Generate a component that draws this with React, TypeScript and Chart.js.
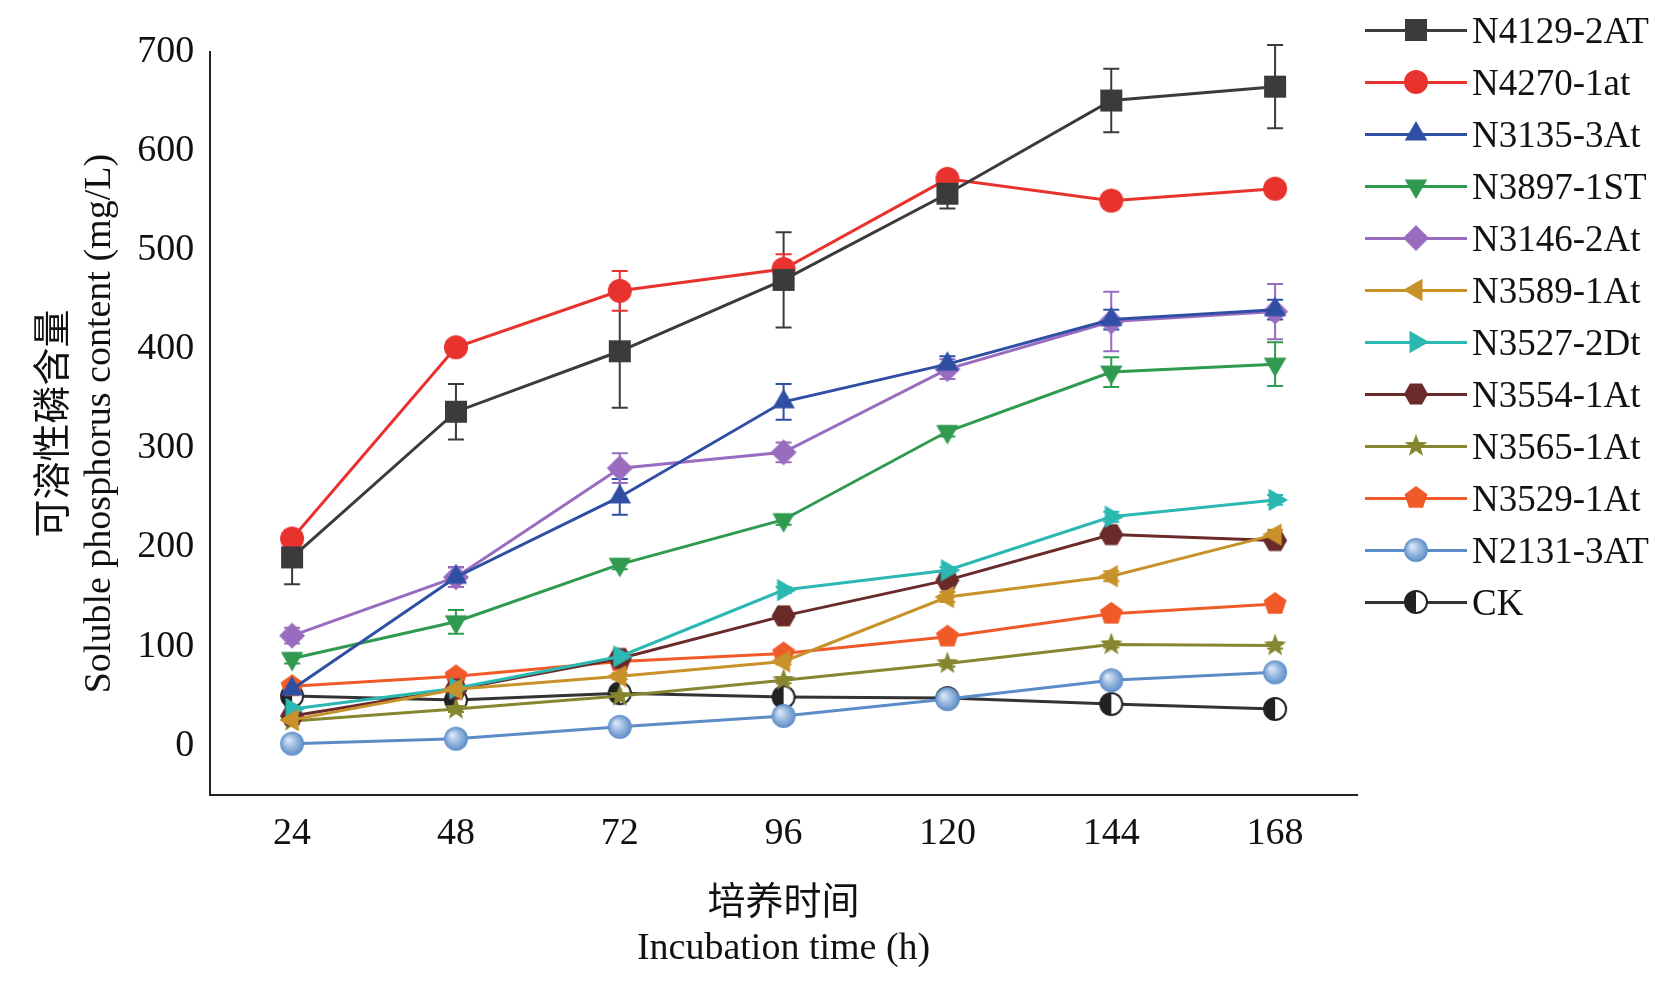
import React, { useEffect, useRef, useState } from "react";
import { Chart, registerables } from "chart.js";
Chart.register(...registerables);

const hours = [24, 48, 72, 96, 120, 144, 168];
const names = ["N4129-2AT","N4270-1at","N3135-3At","N3897-1ST","N3146-2At","N3589-1At","N3527-2Dt","N3554-1At","N3565-1At","N3529-1At","N2131-3AT","CK"];
const colors = ["#3b3b3b","#e8322e","#2e4fa3","#2f9a50","#9a6cc0","#c8922a","#2cb8b2","#6a2a2a","#868630","#f05a28","#5b8cc8","#333333"];
const shapes = ["square","circle","tri","tridown","diamond","trileft","triright","hex","star","pent","ball","open"];
const v1 = [190, 337, 398, 470, 557, 651, 665];
const v2 = [209, 402, 459, 481, 572, 550, 562];
const v3 = [57, 170, 251, 347, 385, 430, 440];
const v4 = [88, 125, 183, 228, 317, 377, 385];
const v5 = [111, 170, 280, 296, 380, 428, 438];
const v6 = [26, 57, 70, 85, 150, 171, 213];
const v7 = [37, 58, 90, 157, 177, 231, 248];
const v8 = [30, 57, 88, 131, 167, 213, 207];
const v9 = [25, 37, 50, 66, 83, 102, 101];
const v10 = [60, 70, 85, 93, 110, 133, 143];
const v11 = [2, 7, 19, 30, 47, 66, 74];
const v12 = [50, 46, 53, 49, 48, 42, 37];
const e1 = [27, 28, 57, 48, 15, 32, 42];
const e2 = [5, 5, 20, 15, 5, 8, 5];
const e3 = [5, 10, 18, 18, 8, 10, 10];
const e4 = [5, 12, 5, 5, 5, 15, 22];
const e5 = [8, 10, 15, 10, 10, 30, 28];
const e6 = [3, 3, 3, 3, 5, 5, 5];
const e7 = [3, 3, 3, 3, 3, 5, 5];
const e8 = [3, 3, 3, 5, 5, 5, 5];
const e9 = [3, 3, 3, 3, 3, 3, 3];
const e10 = [3, 3, 3, 3, 3, 3, 3];
const e11 = [2, 2, 3, 3, 3, 5, 5];
const e12 = [8, 5, 5, 8, 8, 8, 6];
const values = [v1, v2, v3, v4, v5, v6, v7, v8, v9, v10, v11, v12];
const errs = [e1, e2, e3, e4, e5, e6, e7, e8, e9, e10, e11, e12];

function marker(shape: string, color: string): HTMLCanvasElement {
  const s = 28, c = document.createElement("canvas");
  c.width = s; c.height = s;
  const g = c.getContext("2d")!;
  const cx = 14, cy = 14, r = 12;
  g.fillStyle = color; g.strokeStyle = shape === "open" ? "#222" : color; g.lineWidth = 2;
  const poly = (n: number, rot: number, rr = r) => {
    g.beginPath();
    for (let i = 0; i < n; i++) { const a = rot + (i * 2 * Math.PI) / n; g.lineTo(cx + rr * Math.cos(a), cy + rr * Math.sin(a)); }
    g.closePath(); g.fill();
  };
  const up = -Math.PI / 2;
  switch (shape) {
    case "square": g.fillRect(3, 3, 22, 22); break;
    case "circle": g.beginPath(); g.arc(cx, cy, r, 0, 7); g.fill(); break;
    case "tri": poly(3, up, 13); break;
    case "tridown": poly(3, Math.PI / 2, 13); break;
    case "trileft": poly(3, Math.PI, 13); break;
    case "triright": poly(3, 0, 13); break;
    case "diamond": poly(4, up, 13); break;
    case "hex": poly(6, 0, 12); break;
    case "pent": poly(5, up, 12); break;
    case "star": {
      g.beginPath();
      for (let i = 0; i < 10; i++) { const a = up + (i * Math.PI) / 5; const rr = i % 2 ? 5 : 12; g.lineTo(cx + rr * Math.cos(a), cy + rr * Math.sin(a)); }
      g.closePath(); g.fill(); break;
    }
    case "ball": {
      const gr = g.createRadialGradient(10, 10, 1, cx, cy, r);
      gr.addColorStop(0, "#d8e6f6"); gr.addColorStop(1, color);
      g.fillStyle = gr; g.beginPath(); g.arc(cx, cy, r, 0, 7); g.fill(); break;
    }
    case "open": g.fillStyle = "#fff"; g.beginPath(); g.arc(cx, cy, 11, 0, 7); g.fill(); g.stroke();
      g.fillStyle = "#222"; g.beginPath(); g.arc(cx, cy, 11, Math.PI / 2, Math.PI * 1.5); g.fill(); break;
  }
  return c;
}

const errorBars = {
  id: "errorBars",
  beforeDatasetsDraw(chart: any) {
    const ctx = chart.ctx, x = chart.scales.x, y = chart.scales.y;
    chart.data.datasets.forEach((ds: any) => {
      ctx.save(); ctx.strokeStyle = ds.borderColor; ctx.lineWidth = 2;
      ds.data.forEach((p: any, i: number) => {
        const e = ds.err[i], px = x.getPixelForValue(p.x);
        const t = y.getPixelForValue(p.y + e), b = y.getPixelForValue(p.y - e);
        ctx.beginPath(); ctx.moveTo(px, t); ctx.lineTo(px, b);
        ctx.moveTo(px - 8, t); ctx.lineTo(px + 8, t); ctx.moveTo(px - 8, b); ctx.lineTo(px + 8, b); ctx.stroke();
      });
      ctx.restore();
    });
  },
};

export default function App() {
  const ref = useRef<HTMLCanvasElement>(null);
  const [icons, setIcons] = useState<string[]>([]);
  useEffect(() => {
    const imgs = shapes.map((s, i) => marker(s, colors[i]));
    setIcons(imgs.map((c) => c.toDataURL()));
    const serif = "'Liberation Serif', 'Noto Sans CJK SC', serif";
    const chart = new Chart(ref.current!, {
      type: "line",
      data: {
        datasets: names.map((n, i) => ({
          label: n,
          data: hours.map((h, j) => ({ x: h, y: values[i][j] })),
          err: errs[i],
          borderColor: colors[i],
          borderWidth: 3,
          pointStyle: imgs[i],
          pointRadius: 12,
        })) as any,
      },
      options: {
        animation: false,
        responsive: false,
        layout: { padding: { left: 28, right: 322, top: 52, bottom: 10 } },
        plugins: { legend: { display: false }, tooltip: { enabled: false } },
        scales: {
          x: {
            type: "linear", min: 12, max: 180,
            afterBuildTicks: (s: any) => { s.ticks = hours.map((v) => ({ value: v })); },
            grid: { display: false, drawTicks: true, tickLength: 10, tickColor: "#222" } as any,
            border: { color: "#222", width: 2 },
            ticks: { color: "#111", font: { family: serif, size: 38 }, padding: 6 },
            title: { display: true, text: ["培养时间", "Incubation time (h)"], color: "#111", font: { family: serif, size: 38 }, padding: { top: 18 } },
          },
          y: {
            min: -50, max: 700,
            afterBuildTicks: (s: any) => { s.ticks = [0, 100, 200, 300, 400, 500, 600, 700].map((v) => ({ value: v })); },
            grid: { display: false, drawTicks: true, tickLength: 10, tickColor: "#222" } as any,
            border: { color: "#222", width: 2 },
            ticks: { color: "#111", font: { family: serif, size: 38 }, padding: 6 },
            title: { display: true, text: ["可溶性磷含量", "Soluble phosphorus content (mg/L)"], color: "#111", font: { family: serif, size: 38 }, padding: { bottom: 8 } },
          },
        },
      },
      plugins: [errorBars],
    });
    return () => chart.destroy();
  }, []);
  return (
    <div style={{ position: "fixed", left: 0, top: 0, width: 1679, height: 986, background: "#fff" }}>
      <canvas ref={ref} width={1679} height={986} />
      <div style={{ position: "absolute", left: 1365, top: 4 }}>
        {names.map((n, i) => (
          <div key={n} style={{ display: "flex", alignItems: "center", height: 52 }}>
            <div style={{ position: "relative", width: 107, height: 30 }}>
              <div style={{ position: "absolute", left: 0, width: 102, top: 14, height: 3, background: colors[i] }} />
              {icons[i] && <img src={icons[i]} style={{ position: "absolute", left: 37, top: 1, width: 28, height: 28 }} />}
            </div>
            <span style={{ fontFamily: "'Liberation Serif', serif", fontSize: 37, color: "#111" }}>{n}</span>
          </div>
        ))}
      </div>
    </div>
  );
}
